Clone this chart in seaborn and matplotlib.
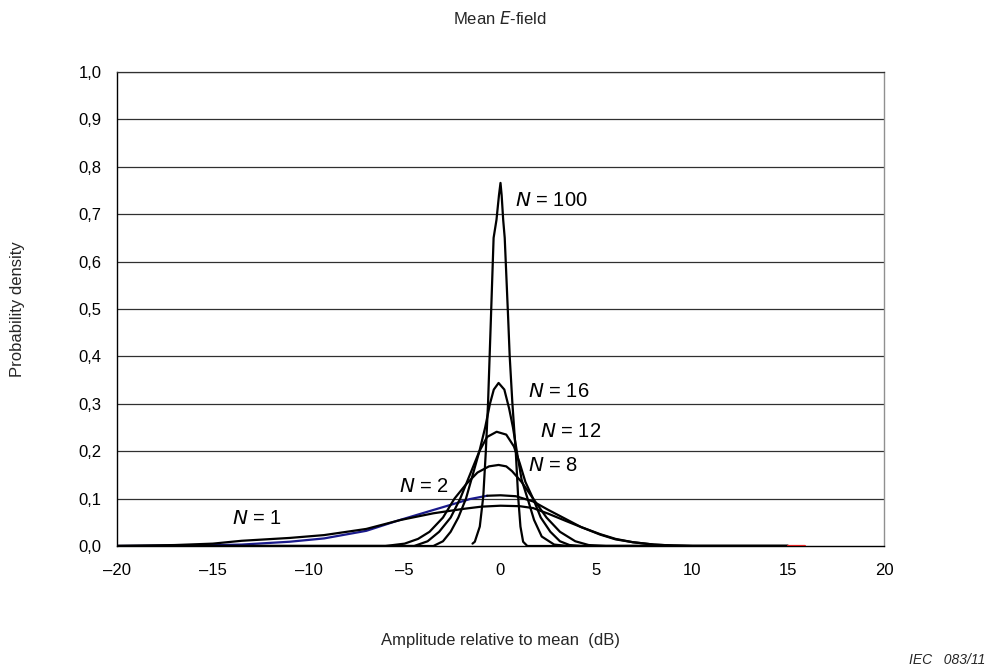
import numpy as np
import pandas as pd
import matplotlib
matplotlib.use("Agg")
import matplotlib.pyplot as plt
import seaborn as sns

# ---------------- data ----------------
n1_x = [-20, -17, -15, -13.5, -11, -9.2, -7, -5.2, -3.5, -2, -1, 0, 1, 1.7, 2.5, 3.4, 4.2, 5.2, 6.0, 6.9, 8, 9, 10, 15]
n1_y = [0.0, 0.002, 0.005, 0.011, 0.017, 0.023, 0.036, 0.055, 0.069, 0.078, 0.083, 0.085, 0.084, 0.080, 0.068, 0.053, 0.040, 0.025, 0.015, 0.008, 0.003, 0.001, 0.0, 0.0]

n2_x = [-20, -16, -13.5, -11, -9.2, -7, -5.4, -3.5, -2.5, -1.6, -0.7, 0, 0.8, 1.7, 2.5, 3.4, 4.2, 5.2, 6.0, 6.9, 8, 9, 10, 15]
n2_y = [0.0, 0.001, 0.003, 0.009, 0.016, 0.032, 0.053, 0.076, 0.088, 0.099, 0.106, 0.107, 0.105, 0.094, 0.076, 0.057, 0.040, 0.024, 0.014, 0.008, 0.003, 0.001, 0.0, 0.0]

n8_x = [-20, -6.0, -5.0, -4.3, -3.7, -3.0, -2.4, -1.8, -1.2, -0.6, -0.1, 0.3, 0.6, 1.1, 1.7, 2.4, 3.1, 3.9, 4.6, 5.5, 15]
n8_y = [0.0, 0.0, 0.005, 0.015, 0.030, 0.060, 0.100, 0.130, 0.155, 0.168, 0.171, 0.168, 0.158, 0.135, 0.100, 0.060, 0.030, 0.010, 0.002, 0.0, 0.0]

n12_x = [-20, -4.5, -3.8, -3.2, -2.6, -2.1, -1.6, -1.1, -0.7, -0.2, 0.3, 0.7, 1.0, 1.3, 1.7, 2.1, 2.6, 3.1, 3.6, 4.2, 15]
n12_y = [0.0, 0.0, 0.010, 0.030, 0.060, 0.100, 0.150, 0.200, 0.230, 0.241, 0.235, 0.210, 0.175, 0.135, 0.100, 0.060, 0.030, 0.010, 0.002, 0.0, 0.0]

n16_x = [-20, -3.5, -3.0, -2.6, -2.2, -1.8, -1.45, -1.1, -0.8, -0.55, -0.35, -0.1, 0.2, 0.45, 0.65, 0.85, 1.1, 1.45, 1.75, 2.15, 2.8, 3.5, 15]
n16_y = [0.0, 0.0, 0.010, 0.030, 0.060, 0.100, 0.150, 0.200, 0.250, 0.300, 0.330, 0.344, 0.330, 0.290, 0.250, 0.200, 0.140, 0.095, 0.055, 0.020, 0.003, 0.0, 0.0]

n100_x = [-1.46, -1.34, -1.08, -0.9, -0.77, -0.65, -0.5, -0.36, -0.21, -0.08, 0.0, 0.06, 0.14, 0.22, 0.40, 0.48, 0.62, 0.80, 0.92, 1.04, 1.18, 1.4, 15]
n100_y = [0.005, 0.009, 0.041, 0.104, 0.196, 0.301, 0.480, 0.650, 0.688, 0.740, 0.766, 0.740, 0.688, 0.650, 0.480, 0.400, 0.301, 0.196, 0.104, 0.041, 0.009, 0.0, 0.0]

red_x = [15, 15.9]
red_y = [0.0, 0.0]

labels = ["N = 1", "N = 2", "N = 8", "N = 12", "N = 16", "N = 100"]
label_x = [-14.0, -5.3, 1.45, 2.05, 1.45, 0.75]
label_y = [0.057, 0.125, 0.169, 0.241, 0.325, 0.729]

x_ticks = [-20, -15, -10, -5, 0, 5, 10, 15, 20]
x_ticklabels = ["\u201320", "\u201315", "\u201310", "\u20135", "0", "5", "10", "15", "20"]
y_ticks = [0.0, 0.1, 0.2, 0.3, 0.4, 0.5, 0.6, 0.7, 0.8, 0.9, 1.0]
y_ticklabels = ["0,0", "0,1", "0,2", "0,3", "0,4", "0,5", "0,6", "0,7", "0,8", "0,9", "1,0"]

# ---------------- figure ----------------
sns.set_theme(style="white")
plt.rcParams["font.family"] = ["Liberation Sans", "DejaVu Sans"]

fig = plt.figure(figsize=(9.9, 6.72), dpi=100)
ax = fig.add_axes([117 / 990, 126 / 672, (884 - 117) / 990, (546 - 72) / 672])

def frame(xs, ys, name):
    return pd.DataFrame({"x": xs, "y": ys, "curve": name})

black_curves = pd.concat([
    frame(n1_x, n1_y, "N1"),
    frame([v for v in n2_x if v >= -0.7], [y for v, y in zip(n2_x, n2_y) if v >= -0.7], "N2"),
    frame(n8_x, n8_y, "N8"),
    frame(n12_x, n12_y, "N12"),
    frame(n16_x, n16_y, "N16"),
    frame(n100_x, n100_y, "N100"),
], ignore_index=True)

blue_part = frame([v for v in n2_x if v <= -0.7], [y for v, y in zip(n2_x, n2_y) if v <= -0.7], "N2b")

# y gridlines
for yt in y_ticks[1:]:
    ax.axhline(yt, color="#303030", lw=0.9, zorder=1)

sns.lineplot(data=blue_part, x="x", y="y", color="#1a1a8c", lw=1.6,
             sort=False, estimator=None, ax=ax, legend=False, zorder=3)
sns.lineplot(data=black_curves, x="x", y="y", units="curve", color="black", lw=1.6,
             sort=False, estimator=None, ax=ax, legend=False, zorder=4)
sns.lineplot(x=red_x, y=red_y, color="#e02020", lw=1.6, ax=ax, legend=False, zorder=5)

ax.set_xlim(-20, 20)
ax.set_ylim(0, 1.0)
ax.set_xticks(x_ticks)
ax.set_xticklabels(x_ticklabels)
ax.set_yticks(y_ticks)
ax.set_yticklabels(y_ticklabels)
ax.tick_params(axis="both", which="major", direction="out", length=6, width=1,
               color="black", labelsize=12, labelcolor="black", pad=6)
ax.tick_params(axis="y", pad=5)
ax.set_xlabel("")
ax.set_ylabel("")

for side in ["left", "bottom"]:
    ax.spines[side].set_color("black")
    ax.spines[side].set_linewidth(1.0)
ax.spines["right"].set_color("#909090")
ax.spines["right"].set_linewidth(1.0)
ax.spines["top"].set_color("#303030")
ax.spines["top"].set_linewidth(0.9)

for lab, lx, ly in zip(labels, label_x, label_y):
    n, rest = lab.split(" ", 1)
    ax.text(lx, ly, f"$\\mathit{{{n}}}$ {rest}", fontsize=14.5, ha="left", va="center",
            color="black", zorder=6)

fig.text(500 / 990, 1 - 18 / 672, "Mean $\\mathit{E}$-field", ha="center", va="center", fontsize=12)
fig.text(500 / 990, 1 - 640 / 672, "Amplitude relative to mean  (dB)", ha="center", va="center", fontsize=12)
fig.text(18 / 990, 1 - 309 / 672, "Probability density", ha="center", va="center", rotation=90, fontsize=12)
fig.text(985 / 990, 1 - 660 / 672, "IEC   083/11", ha="right", va="center", fontsize=10, style="italic")

plt.rcParams["mathtext.fontset"] = "custom"
plt.rcParams["mathtext.it"] = "Liberation Sans:italic"
plt.rcParams["mathtext.rm"] = "Liberation Sans"

fig.savefig("out.png", dpi=100, facecolor="white")
